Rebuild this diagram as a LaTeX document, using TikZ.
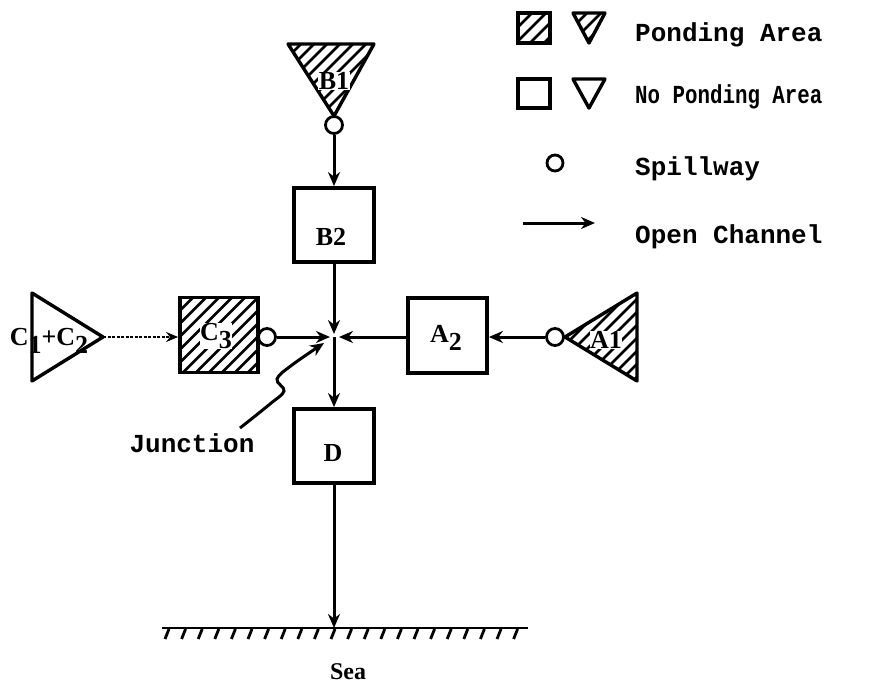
\documentclass[tikz,border=0pt]{standalone}
\usepackage{fontspec}
\setmainfont{Liberation Serif}
\newfontfamily\monof{Liberation Mono}
\usetikzlibrary{arrows.meta,calc}
\newcommand\lowsub[1]{\raisebox{-0.28em}{#1}}
% #1 clip path, #2 xmin, #3 ymin, #4 ymax, #5 spacing
\newcommand\hatcharea[5]{%
  \begin{scope}
    \clip #1;
    \foreach \k in {0,...,22}{
      \draw[hatchline] ({#2-(#4-#3)+\k*#5},#4) -- ++({#4-#3},{-(#4-#3)});
    }
  \end{scope}}
\tikzset{
  box/.style={draw, line width=3.8pt, minimum width=80pt, minimum height=74pt, inner sep=0pt},
  spill/.style={draw, circle, line width=2.8pt, minimum size=17pt, inner sep=0pt, fill=white},
  tri/.style={line width=3.4pt, line join=round},
  conn/.style={line width=3pt, -{Stealth[length=14pt,width=12pt]}},
  thinconn/.style={line width=1.6pt, dash pattern=on 3pt off 1.5pt, -{Stealth[length=12pt,width=10pt]}},
  hatchline/.style={line width=2.8pt},
  lbl/.style={font=\fontsize{26}{26}\selectfont\bfseries, inner sep=1pt},
  legtext/.style={font=\monof\fontsize{26}{26}\selectfont\bfseries, anchor=base west, inner sep=0pt},
}
\begin{document}
\begin{tikzpicture}[x=1pt,y=-1pt]
\useasboundingbox (0,0) rectangle (881,685);

% ---------- legend ----------
\hatcharea{(518,13) rectangle (550,43)}{518}{13}{43}{14}
\draw[line width=3.2pt] (518,13) rectangle (550,43);
\hatcharea{(573,13) -- (605,13) -- (589,43) -- cycle}{573}{13}{43}{14}
\draw[tri] (573,13) -- (605,13) -- (589,43) -- cycle;
\node[legtext] (lg1) at (635,42) {Ponding Area};
\draw[line width=3.2pt] (518,79) rectangle (550,108);
\draw[tri] (573,79) -- (605,79) -- (589,108) -- cycle;
\node[legtext] (lg2) at (635,103) {\scalebox{0.8}[1]{No Ponding Area}};
\node[spill, minimum size=16pt] (lgc) at (555,163) {};
\node[legtext] (lg3) at (635,175) {Spillway};
\coordinate (la1) at (523,223);
\coordinate (la2) at (595,223);
\draw[conn] (la1) -- (la2);
\node[legtext] (lg4) at (635,243) {Open Channel};

% ---------- B1 ----------
\hatcharea{(288,44) -- (374,44) -- (334,116) -- cycle}{288}{44}{116}{13}
\draw[tri] (288,44) -- (374,44) -- (334,116) -- cycle;
\node[lbl, fill=white, inner sep=0.5pt] (B1l) at (334,81) {B1};
\node[spill] (spB1) at (334,125) {};

% ---------- boxes ----------
\node[box] (B2) at (334,225) {};
\node[lbl] (B2l) at (331,237) {B2};
\node[box] (D) at (334,446) {};
\node[lbl] (Dl) at (333,453) {D};
\hatcharea{(180,297.5) rectangle (258,372.5)}{180}{297.5}{372.5}{13}
\node[box, minimum width=78pt, minimum height=75pt] (C3) at (219,335) {};
\node[lbl, fill=white, inner sep=0.5pt] (C3l) at (216,336) {C\lowsub{3}};
\node[spill] (spC3) at (267,337) {};
\node[box, minimum width=79pt, minimum height=75pt] (A2) at (447.5,335.5) {};
\node[lbl] (A2l) at (446,338) {A\lowsub{2}};

% ---------- A1 ----------
\hatcharea{(637,293) -- (637,381) -- (565,337) -- cycle}{565}{293}{381}{13}
\draw[tri] (637,293) -- (637,381) -- (565,337) -- cycle;
\node[lbl, fill=white, inner sep=0.5pt] (A1l) at (606,340) {A1};
\node[spill] (spA1) at (555,337) {};

% ---------- C1+C2 ----------
\draw[tri] (32,293) -- (32,381) -- (103,337) -- cycle;
\node[lbl, inner sep=0pt] (C12l) at (49,341) {C\lowsub{1}+C\lowsub{2}};
\coordinate (c12) at (103,337);

% ---------- connectors ----------
\coordinate (J) at (334,337);
\draw[conn] (spB1) -- (B2);
\draw[conn] (B2.south) -- ($(J)+(0,-3)$);
\draw[conn] (spC3.east) -- ($(J)+(-4,0)$);
\draw[conn] (A2.west |- J) -- ($(J)+(5,0)$);
\draw[conn] (J) -- (D.north);
\draw[conn] (spA1.west) -- (A2.east |- spA1.west);
\draw[thinconn] (c12) -- (C3.west |- c12);

% ---------- junction label ----------
\node[font=\monof\fontsize{26}{26}\selectfont\bfseries, inner sep=0pt] (junc) at (192,443) {Junction};
\coordinate (jstart) at (240,428);
\coordinate (jend) at (324,343);
\draw[line width=3pt, -{Stealth[length=14pt,width=12pt]}]
  plot[smooth, tension=0.6] coordinates {(jstart) (270,404) (284,391) (277,379) (292,365) (jend)};

% ---------- sea ----------
\coordinate (seaL) at (162,628);
\coordinate (seaR) at (528,628);
\coordinate (seaC) at (334,628);
\draw[line width=2.8pt] (seaL) -- (seaR);
\foreach \i in {0,...,21}
  \draw[line width=2.8pt] ({169+\i*16.6},629) -- ++(-4,10);
\draw[conn] (D.south) -- (seaC);
\node[font=\fontsize{24}{24}\selectfont\bfseries, inner sep=0pt] (sea) at (348,672) {Sea};
\end{tikzpicture}
\end{document}
